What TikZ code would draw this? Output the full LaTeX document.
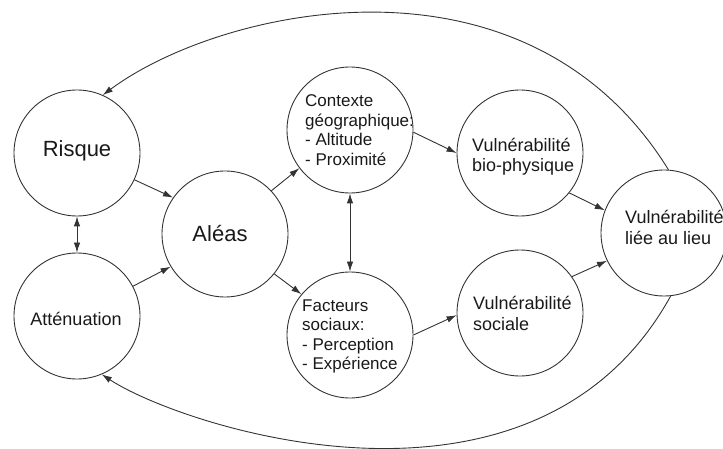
\documentclass[tikz,border=0pt]{standalone}
\usepackage{fontspec}
\setmainfont{Liberation Sans}
\usetikzlibrary{arrows.meta}
\begin{document}
\begin{tikzpicture}[x=1pt,y=-1pt,
  circ/.style={circle,draw=black!80,line width=0.9pt,minimum size=126pt,inner sep=0pt},
  smalltxt/.style={font=\fontsize{17}{19.5}\selectfont,align=left,inner sep=0pt,anchor=west,text=black!90},
  vtxt/.style={font=\fontsize{18}{20.5}\selectfont,align=left,inner sep=0pt,anchor=west,text=black!90},
  bigtxt/.style={font=\fontsize{22}{24}\selectfont,inner sep=0pt,text=black!90},
  midtxt/.style={font=\fontsize{18}{20}\selectfont,inner sep=0pt,text=black!90},
  tip/.style={Latex[length=10pt,width=6.5pt]},
  arr/.style={-{Latex[length=10pt,width=6.5pt]},line width=0.9pt,draw=black!80},
  darr/.style={{Latex[length=10pt,width=6.5pt]}-{Latex[length=10pt,width=6.5pt]},line width=0.9pt,draw=black!80}]
\useasboundingbox (0,0) rectangle (723,449);
% circles
\node[circ] (risque) at (77,153) {};
\node[circ] (att) at (77,316) {};
\node[circ] (aleas) at (225,234) {};
\node[circ] (ctx) at (350,130) {};
\node[circ] (fac) at (350,335) {};
\node[circ] (bio) at (520,153) {};
\node[circ] (soc) at (520,313) {};
\node[circ] (lieu) at (664,233) {};
% texts
\node[bigtxt] (risquetxt) at (77,151) {Risque};
\node[midtxt] (atttxt) at (76,319) {Atténuation};
\node[bigtxt] (aleastxt) at (220,234) {Aléas};
\node[smalltxt] (ctxtxt) at (305,130) {Contexte\\géographique:\\- Altitude\\- Proximité};
\node[smalltxt] (factxt) at (302,336.5) {Facteurs\\sociaux:\\- Perception\\- Expérience};
\node[vtxt] (biotxt) at (472,156.5) {Vulnérabilité\\bio-physique};
\node[vtxt] (soctxt) at (473,313.5) {Vulnérabilité\\sociale};
\node[vtxt] (lieutxt) at (625,227.5) {Vulnérabilité\\liée au lieu};
% connectors
\draw[arr] (risque.-25) -- (aleas.145);
\draw[arr] (att.28.5) -- (aleas.211.7);
\draw[arr] (aleas.43) -- (ctx.217.6);
\draw[arr] (aleas.-39) -- (fac.140);
\draw[darr] (ctx.-90) -- (fac.90);
\draw[darr] (risque.-90) -- (att.90);
\draw[arr] (ctx.-2) -- (bio.180);
\draw[arr] (fac.0) -- (soc.182);
\draw[arr] (bio.-39) -- (lieu.159);
\draw[arr] (soc.35.6) -- (lieu.206.6);
% feedback arcs
\draw[arr] (lieu.86) .. controls (525,-62) and (220,8) .. (risque.66);
\draw[arr] (lieu.-84) .. controls (534,543) and (182,427) .. (att.-67);
\end{tikzpicture}
\end{document}
